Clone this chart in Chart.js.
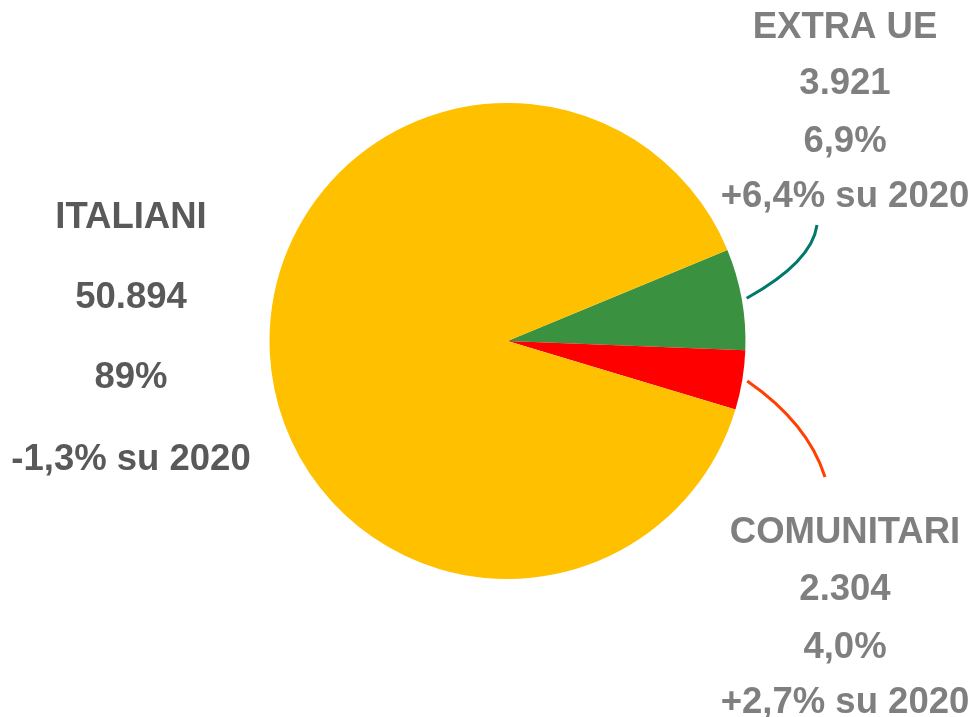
<!DOCTYPE html>
<html lang="it">
<head>
<meta charset="utf-8">
<title>Italiani, comunitari, extra UE</title>
<script src="https://cdn.jsdelivr.net/npm/chart.js@4"></script>
<style>
    body { margin: 0; background: #ffffff; }
    #pChart { display: block; }
</style>
</head>
<body>
<canvas id="pChart" width="973" height="717"></canvas>
<script>
// slices, clockwise from the upper right
const categories = ['EXTRA UE', 'COMUNITARI', 'ITALIANI'];
const values = [3921, 2304, 50894];
const shares = ['6,9%', '4,0%', '89%'];
const changes = ['+6,4% su 2020', '+2,7% su 2020', '-1,3% su 2020'];
const sliceColors = ['#3A9140', '#FF0000', '#FFC000'];

let pieChart;

// 50894 -> "50.894"
function formatNumber(n) {
    return String(n).replace(/\B(?=(\d{3})+(?!\d))/g, '.');
}

// text blocks and leader lines for each slice
const labelBlocks = [
    { x: 845, lines: [38, 94, 151.5, 207], color: '#7F7F7F',
      leader: { color: '#00796B', ctrl: [812, 262], end: [817, 225] } },
    { x: 845, lines: [543, 600, 657.5, 713], color: '#7F7F7F',
      leader: { color: '#FF4000', ctrl: [808, 423], end: [825, 477] } },
    { x: 131, lines: [228, 308, 388, 470], color: '#595959', leader: null }
];

const sliceLabels = {
    id: 'sliceLabels',
    afterDatasetsDraw(chart) {
        const ctx = chart.ctx;
        const arcs = chart.getDatasetMeta(0).data;
        ctx.save();
        ctx.font = 'bold 36.5px "Liberation Sans", Arial, sans-serif';
        ctx.textAlign = 'center';
        ctx.textBaseline = 'alphabetic';

        arcs.forEach((arc, i) => {
            const block = labelBlocks[i];
            const texts = [categories[i], formatNumber(values[i]), shares[i], changes[i]];

            ctx.fillStyle = block.color;
            texts.forEach((t, j) => ctx.fillText(t, block.x, block.lines[j]));

            if (block.leader) {
                const mid = (arc.startAngle + arc.endAngle) / 2;
                const r = arc.outerRadius + 5;
                const sx = arc.x + Math.cos(mid) * r;
                const sy = arc.y + Math.sin(mid) * r;
                ctx.beginPath();
                ctx.moveTo(sx, sy);
                ctx.quadraticCurveTo(block.leader.ctrl[0], block.leader.ctrl[1],
                    block.leader.end[0], block.leader.end[1]);
                ctx.strokeStyle = block.leader.color;
                ctx.lineWidth = 3;
                ctx.stroke();
            }
        });
        ctx.restore();
    }
};

const ctx = document.getElementById('pChart').getContext('2d');

pieChart = new Chart(ctx, {
    type: 'pie',
    data: {
        labels: categories,
        datasets: [{
            data: values,
            backgroundColor: sliceColors,
            borderWidth: 0
        }]
    },
    options: {
        responsive: false,
        animation: false,
        devicePixelRatio: 1,
        rotation: 67.5,
        layout: {
            padding: { top: 103, bottom: 138, left: 269, right: 227 }
        },
        plugins: {
            legend: { display: false },
            tooltip: { enabled: false }
        }
    },
    plugins: [sliceLabels]
});
</script>
</body>
</html>
